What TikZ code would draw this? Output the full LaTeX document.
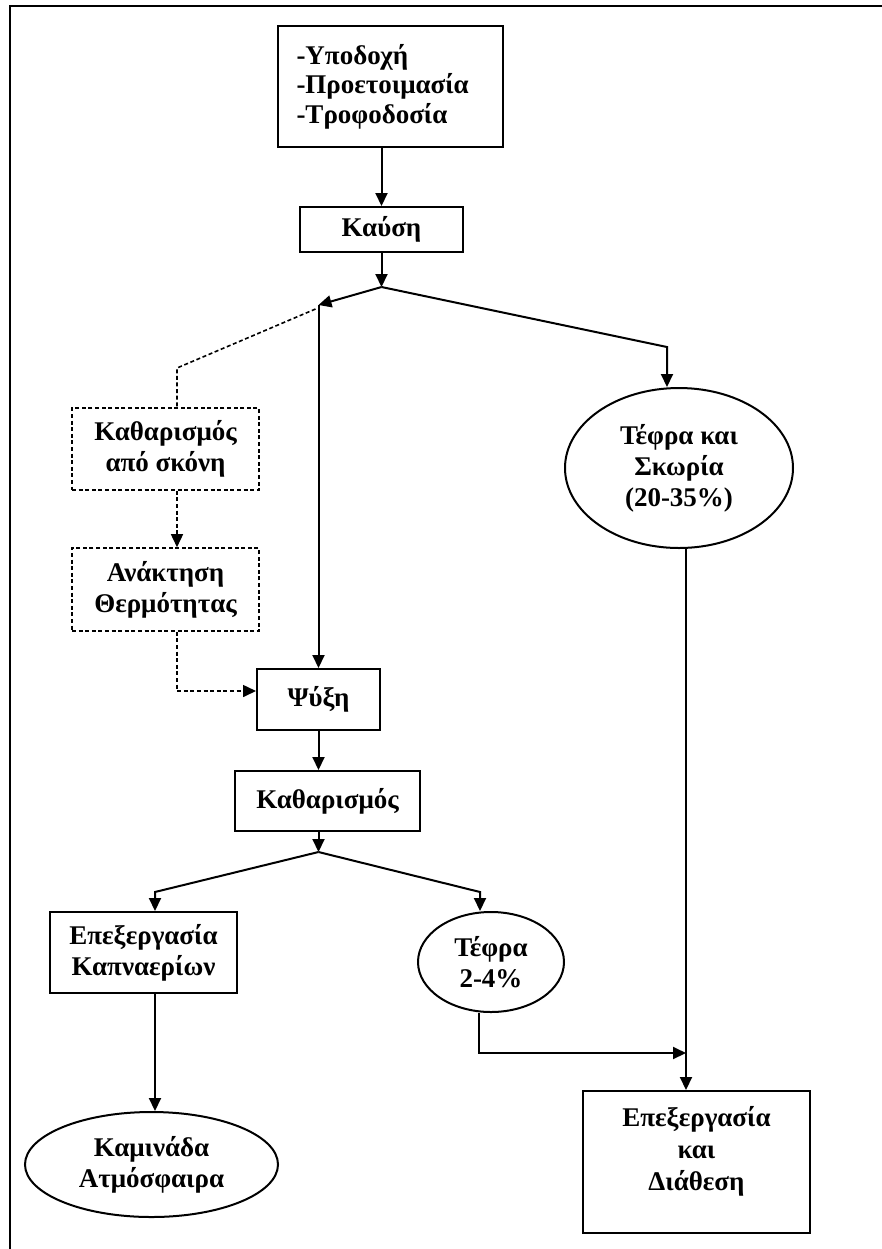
\documentclass[tikz,border=0pt]{standalone}
\usepackage{fontspec}
\setmainfont{Liberation Serif}
\usetikzlibrary{arrows.meta,shapes.geometric}
\begin{document}
\begin{tikzpicture}[x=0.5pt,y=-0.5pt,
  every node/.style={font=\fontsize{13.5pt}{15.5pt}\selectfont\bfseries, align=center, inner sep=0pt},
  box/.style={draw, line width=1pt, rectangle},
  dbox/.style={draw, line width=0.8pt, dash pattern=on 2pt off 1.3pt, rectangle},
  ell/.style={draw, line width=1pt, ellipse},
  arr/.style={line width=1pt, -{Triangle[width=6pt,length=6.5pt]}},
  conn/.style={line width=1pt},
  darr/.style={line width=0.8pt, dash pattern=on 2pt off 1.3pt, -{Triangle[width=6pt,length=6.5pt]}},
  dconn/.style={line width=0.8pt, dash pattern=on 2pt off 1.3pt}
]
\useasboundingbox (0,0) rectangle (882,1249);
% frame
\draw[line width=1.3pt] (10,1249) -- (10,6) -- (882,6);

% nodes
\node[box, minimum width=112.5pt, minimum height=60.5pt, text width=94pt, align=left,
      font=\fontsize{13.5pt}{14.8pt}\selectfont\bfseries] (top) at (390.5,86.5)
  {-Υποδοχή\\-Προετοιμασία\\-Τροφοδοσία};
\node[box, minimum width=81.5pt, minimum height=22.5pt] (kafsi) at (381.5,229.5) {Καύση};
\node[dbox, minimum width=93.5pt, minimum height=41pt] (dust) at (165.5,449) {Καθαρισμός\\από σκόνη};
\node[dbox, minimum width=93.5pt, minimum height=41.5pt] (heat) at (165.5,589.5) {Ανάκτηση\\Θερμότητας};
\node[box, minimum width=61.5pt, minimum height=30.5pt] (psyxi) at (318.5,699.5) {Ψύξη};
\node[box, minimum width=92.5pt, minimum height=30pt] (kathar) at (327.5,801) {Καθαρισμός};
\node[box, minimum width=93.5pt, minimum height=40.5pt] (kapn) at (143.5,952.5) {Επεξεργασία\\Καπναερίων};
\node[ell, minimum width=126.5pt, minimum height=52.5pt] (kamin) at (151.5,1164.5) {Καμινάδα\\Ατμόσφαιρα};
\node[ell, minimum width=73pt, minimum height=50pt] (tefra) at (491,962) {Τέφρα\\2-4\%};
\node[ell, minimum width=114pt, minimum height=80pt] (skoria) at (679,468) {Τέφρα και\\Σκωρία\\(20-35\%)};
\node[box, minimum width=113.5pt, minimum height=71pt] (disp) at (696.5,1162) {};
\node[font=\fontsize{13.5pt}{16pt}\selectfont\bfseries] (disptext) at (696.5,1151) {Επεξεργασία\\και\\Διάθεση};

% junctions and corners
\coordinate (j1) at (381.5,287);
\coordinate (c1) at (318.5,305);
\coordinate (c2) at (667,347);
\coordinate (d1) at (177,368);
\coordinate (d2) at (177,691);
\coordinate (j2) at (318.5,852);
\coordinate (c3) at (155,892);
\coordinate (c4) at (480,892);
\coordinate (e1) at (479,1053);
\coordinate (e2) at (686,1053);

% connectors
\draw[arr] (kafsi.north |- top.south) -- (kafsi.north);
\draw[arr] (kafsi.south) -- (j1);
\draw[arr] (j1) -- (c1);
\draw[arr] (c1) -- (psyxi.north);
\draw[arr] (j1) -- (c2) -- (c2 |- skoria.north);

\draw[dconn] (c1) ++(-3,4) -- (d1) -- (d1 |- dust.north);
\draw[darr] (d1 |- dust.south) -- (d1 |- heat.north);
\draw[darr] (d2 |- heat.south) -- (d2) -- (d2 -| psyxi.west);

\draw[arr] (psyxi.south) -- (psyxi.south |- kathar.north);
\draw[arr] (psyxi.south |- kathar.south) -- (j2);
\draw[arr] (j2) -- (c3) -- (c3 |- kapn.north);
\draw[arr] (j2) -- (c4) -- (c4 |- tefra.north);
\draw[arr] (c3 |- kapn.south) -- (c3 |- kamin.north);
\draw[arr] (e1 |- tefra.south) -- (e1) -- (e2);
\draw[arr] (e2 |- skoria.south) -- (e2 |- disp.north);
\end{tikzpicture}
\end{document}
